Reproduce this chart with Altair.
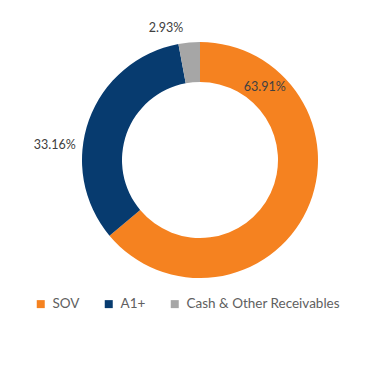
import altair as alt
import pandas as pd

categories = ["SOV", "A1+", "Cash & Other Receivables"]
values = [63.91, 33.16, 2.93]
labels = ["63.91%", "33.16%", "2.93%"]
colors = ["#F58220", "#073B6F", "#A6A6A6"]

df = pd.DataFrame({
    "category": categories,
    "value": values,
    "label": labels,
    "order": list(range(len(categories))),
})

CX, CY = 192, 152
R_OUT, R_IN = 118, 78
R_MID = (R_OUT + R_IN) / 2
# label offsets (style) relative to the slice midpoint
LABEL_OFFSETS = {
    "SOV": (-24, -114),
    "A1+": (-53, 18),
    "Cash & Other Receivables": (-25, -34),
}

color_scale = alt.Scale(domain=categories, range=colors)
theta_scale = alt.Scale(domain=[0, sum(values)], range=[0, 6.283185307179586])

arcs = alt.Chart(df).mark_arc(outerRadius=R_OUT, innerRadius=R_IN, strokeWidth=0).encode(
    theta=alt.Theta("value:Q", stack=True),
    order=alt.Order("order:Q"),
    x=alt.value(CX),
    y=alt.value(CY),
    color=alt.Color(
        "category:N",
        scale=color_scale,
        sort=categories,
        legend=alt.Legend(
            title=None,
            orient="none",
            legendX=26,
            legendY=289,
            direction="horizontal",
            symbolType="square",
            symbolSize=64,
            symbolStrokeWidth=0,
            labelFont="Lato",
            labelFontSize=13.5,
            labelColor="#606060",
            columnPadding=22,
            labelOffset=5,
            labelLimit=300,
        ),
    ),
)

layers = [arcs]
for cat, (dx, dy) in LABEL_OFFSETS.items():
    t = (
        alt.Chart(df)
        .transform_window(cum="sum(value)", sort=[alt.SortField("order")], frame=[None, 0])
        .transform_calculate(mid="datum.cum - datum.value / 2")
        .transform_filter(alt.datum.category == cat)
        .mark_text(
            radius=R_MID, dx=dx, dy=dy, font="Lato", fontSize=12.5,
            color="#404040", align="center", baseline="middle",
        )
        .encode(
            theta=alt.Theta("mid:Q", scale=theta_scale),
            x=alt.value(CX),
            y=alt.value(CY),
            text=alt.Text("label:N"),
        )
    )
    layers.append(t)

chart = alt.layer(*layers).properties(
    width=353, height=374, padding=0, background="white",
).configure_view(strokeWidth=0)

chart.save("out.html", embed_options={"renderer": "svg", "actions": False})
